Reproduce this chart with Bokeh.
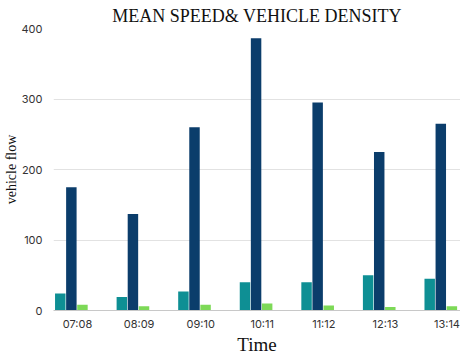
from bokeh.plotting import figure
from bokeh.models import FixedTicker, Range1d, ColumnDataSource
from bokeh.transform import dodge
from bokeh.embed import file_html
from bokeh.resources import INLINE

categories = ["07:08", "08:09", "09:10", "10:11", "11:12", "12:13", "13:14"]
mean_speed = [24, 19, 27, 40, 40, 50, 45]
vehicle_flow = [175, 137, 260, 386, 295, 225, 265]
density = [8, 6, 8, 10, 7, 5, 6]

xs = list(range(len(categories)))
src = ColumnDataSource(dict(x=xs, a=mean_speed, b=vehicle_flow, c=density))

p = figure(frame_width=407, frame_height=282, output_backend="svg", toolbar_location=None,
           x_range=Range1d(-0.29, 6.32), y_range=Range1d(0, 400),
           title="MEAN SPEED& VEHICLE DENSITY",
           min_border_left=0, min_border_right=0, min_border_top=0, min_border_bottom=0)

p.title.align = "center"
p.title.text_font = "Liberation Serif"
p.title.text_font_size = "18px"
p.title.text_font_style = "normal"
p.title.text_color = "#111111"
p.title.offset = 8
p.title.standoff = 6

w = 0.17
p.vbar(x=dodge("x", -0.18), top="a", width=w, source=src, fill_color="#0e8f94", line_color=None)
p.vbar(x=dodge("x", 0.0), top="b", width=w, source=src, fill_color="#0b3d6b", line_color=None)
p.vbar(x=dodge("x", 0.18), top="c", width=w, source=src, fill_color="#7dd957", line_color=None)

p.xaxis.ticker = FixedTicker(ticks=[i + 0.1 for i in xs])
p.xaxis.major_label_overrides = {i + 0.1: c for i, c in zip(xs, categories)}
p.yaxis.ticker = FixedTicker(ticks=[0, 100, 200, 300, 400])

for ax in (p.xaxis, p.yaxis):
    ax.major_tick_line_color = None
    ax.minor_tick_line_color = None
    ax.major_label_text_font = "Inter"
    ax.major_label_text_font_size = "11px"
    ax.major_label_text_color = "#333333"
    ax.axis_label_text_font = "Liberation Serif"
    ax.axis_label_text_font_style = "normal"
    ax.axis_label_text_color = "#111111"

p.xaxis.axis_line_color = "#c8c8c8"
p.yaxis.axis_line_color = None
p.xaxis.major_label_standoff = 0
p.yaxis.major_label_standoff = 5
p.xaxis.axis_label = "Time"
p.xaxis.axis_label_text_font_size = "19px"
p.xaxis.axis_label_standoff = 0
p.yaxis.axis_label = "vehicle flow"
p.yaxis.axis_label_text_font_size = "14px"
p.yaxis.axis_label_standoff = 0

p.xgrid.grid_line_color = None
p.ygrid.grid_line_color = "#e2e2e2"
p.outline_line_color = None

open("out.html", "w").write(file_html(p, INLINE))
